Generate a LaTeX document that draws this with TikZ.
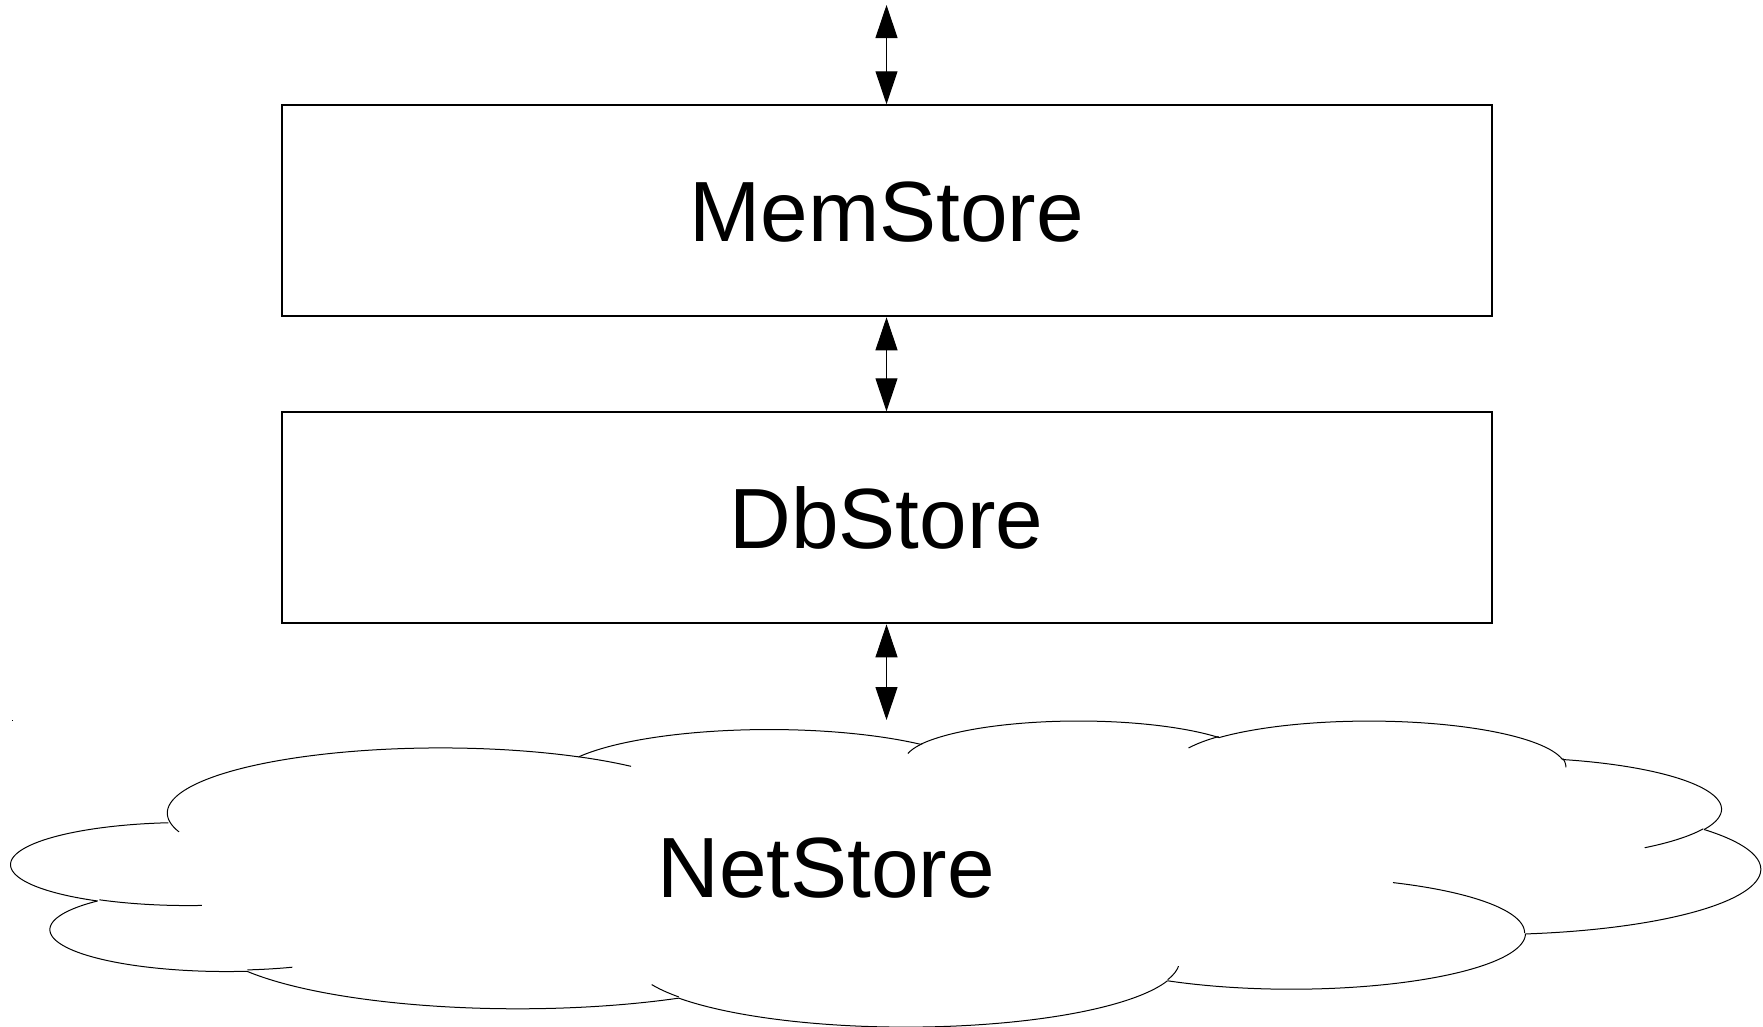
\documentclass[tikz,border=0pt]{standalone}
\usepackage{fontspec}
\setmainfont{Liberation Sans}
\usetikzlibrary{arrows.meta}
\tikzset{
  storebox/.style={draw, line width=2pt, minimum width=1210pt, minimum height=211pt, inner sep=0pt},
  storelbl/.style={inner sep=0pt, text height=61pt, text depth=0pt, font=\fontsize{85.5}{100}\selectfont},
  biarrow/.style={line width=1pt, {Triangle[width=22pt,length=33pt]}-{Triangle[width=22pt,length=33pt]}},
  cloudline/.style={line width=1pt},
}
% cloud drawing helpers (OOXML-style elliptic arcs, visual angles)
\newcommand\cloudmove[2]{\xdef\cpx{#1}\xdef\cpy{#2}}
\newcommand\cloudarc[4]{%
  \pgfmathsetmacro\cts{atan2((#1)*sin(#3), (#2)*cos(#3))}%
  \pgfmathsetmacro\cte{atan2((#1)*sin((#3)+(#4)), (#2)*cos((#3)+(#4)))}%
  \pgfmathsetmacro\cte{(\cts)+mod((\cte)-(\cts)+720,360)}%
  \pgfmathsetmacro\ccx{(\cpx)-(#1)*cos(\cts)}%
  \pgfmathsetmacro\ccy{(\cpy)-(#2)*sin(\cts)}%
  \draw[cloudline] plot[domain=\cts:\cte, samples=120] ({\ccx+(#1)*cos(\x)}, {\ccy+(#2)*sin(\x)});%
  \pgfmathsetmacro\npx{(\ccx)+(#1)*cos(\cte)}%
  \pgfmathsetmacro\npy{(\ccy)+(#2)*sin(\cte)}%
  \xdef\cpx{\npx}\xdef\cpy{\npy}%
}
\begin{document}
\begin{tikzpicture}[x=1pt,y=-1pt]
\useasboundingbox (0,0) rectangle (1763,1026);
\node[storebox] (mem) at (886.5,210.75) {};
\node[storelbl] (memlbl) at (mem.center) {MemStore};
\node[storebox] (db) at (886.5,517.8) {};
\node[storelbl] (dblbl) at (db.center) {DbStore};
\coordinate (topend) at (886.5,5);
\coordinate (netin) at (886.5,720);
\draw[biarrow] (topend) -- (mem.north);
\draw[biarrow] (mem.south) -- (db.north);
\draw[biarrow] (db.south) -- (netin);
\begin{scope}[shift={(12,720)}, x=0.40463pt, y=-0.0708333pt]
  % outline
  \cloudmove{390.0}{1437.0}
  \cloudarc{675.3}{919.0}{-190.48748}{123.78053}
  \cloudarc{533.3}{726.7}{-144.10238}{89.94523}
  \cloudarc{436.5}{594.5}{-145.80792}{99.72302}
  \cloudarc{485.7}{659.5}{-130.98607}{117.24173}
  \cloudarc{533.3}{727.3}{-78.70888}{109.02692}
  \cloudarc{677.5}{922.0}{-46.26725}{130.26900}
  \cloudarc{578.5}{786.7}{0.62502}{114.03333}
  \cloudarc{675.2}{921.5}{22.45160}{115.17255}
  \cloudarc{772.0}{1054.3}{66.24263}{75.71102}
  \cloudarc{436.0}{591.8}{-274.94208}{146.73557}
  \cloudarc{434.5}{594.5}{-246.82850}{152.51885}
  % inner arcs
  \cloudmove{469.3}{2617.7}\cloudarc{434.5}{594.5}{86.742}{26.4295}
  \cloudmove{692.8}{3489.9}\cloudarc{436.0}{591.8}{73.61047}{11.44747}
  \cloudmove{1647.8}{3909.0}\cloudarc{675.2}{921.5}{137.62415}{14.0811}
  \cloudmove{2882.7}{3475.1}\cloudarc{675.2}{921.5}{6.45327}{15.99835}
  \cloudmove{3412.9}{2295.4}\cloudarc{578.5}{786.7}{-70.29235}{70.91737}
  \cloudmove{4179.8}{1535.4}\cloudarc{533.3}{727.3}{30.31803}{27.7515}
  \cloudmove{3832.4}{542.6}\cloudarc{485.7}{659.5}{-13.74433}{14.8589}
  \cloudmove{2907.8}{395.2}\cloudarc{485.7}{659.5}{-149.18145}{18.19537}
  \cloudmove{2214.1}{472.0}\cloudarc{436.5}{594.5}{-163.49427}{17.68635}
  \cloudmove{1400.0}{519.2}\cloudarc{675.3}{919.0}{-66.70695}{12.31935}
  \cloudmove{412.7}{1578.9}\cloudarc{675.3}{919.0}{157.65435}{11.85817}
\end{scope}
\node[storelbl] (net) at (826,866.5) {NetStore};
\fill (11.5,719.5) rectangle (13,721);
\end{tikzpicture}
\end{document}
